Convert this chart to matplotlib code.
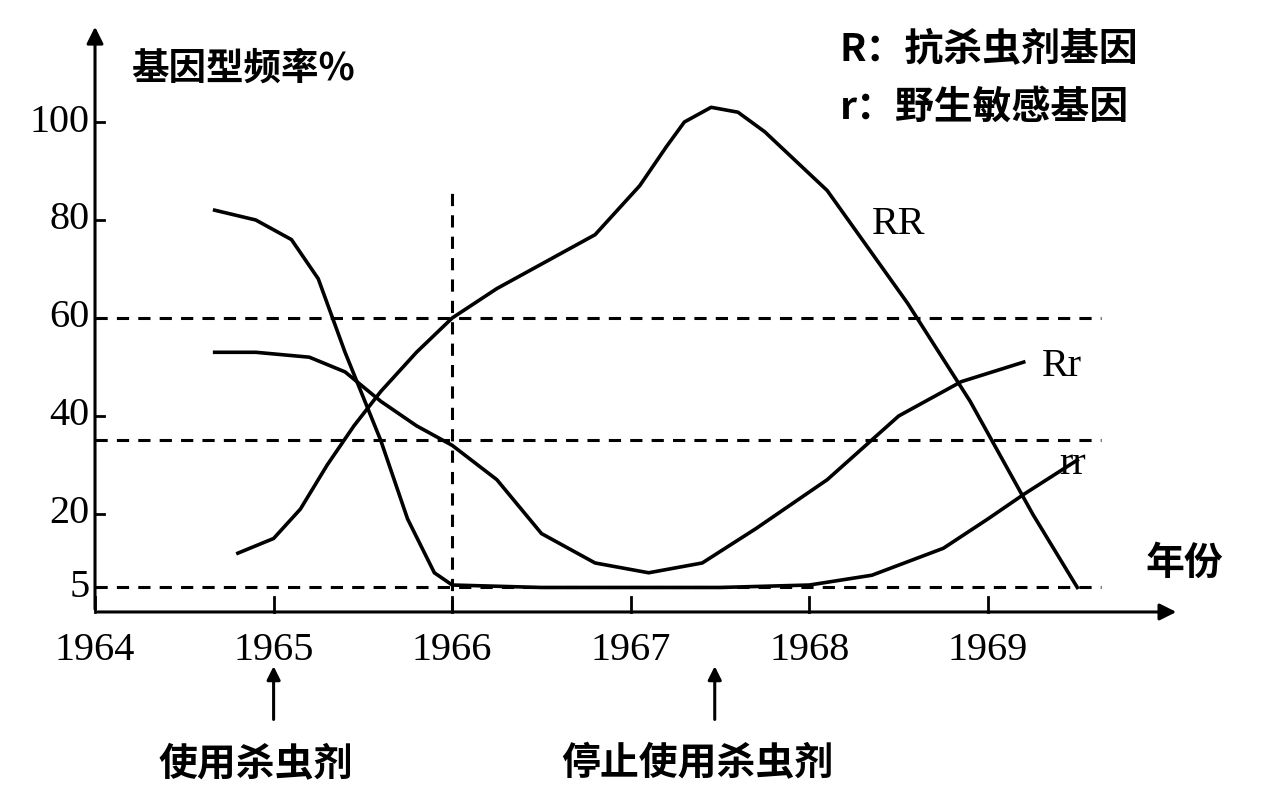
import matplotlib.pyplot as plt

plt.rcParams['font.family'] = ['Noto Sans CJK SC', 'DejaVu Sans']

years = [1964, 1965, 1966, 1967, 1968, 1969]
y_ticks = [5, 20, 40, 60, 80, 100]
guide_levels = [60, 35, 5]

rr_big_x = [1964.8, 1965.0, 1965.15, 1965.3, 1965.45, 1965.6, 1965.8, 1966.0, 1966.25, 1966.5, 1966.8,
            1967.05, 1967.2, 1967.3, 1967.45, 1967.6, 1967.75, 1968.1, 1968.55, 1968.9, 1969.25, 1969.5]
rr_big_y = [12, 15, 21, 30, 38, 45, 53, 60, 66, 71, 77, 87, 95, 100, 103, 102, 98, 86, 63, 43, 20, 5]
Rr_x = [1964.67, 1964.9, 1965.2, 1965.4, 1965.6, 1965.8, 1966.0, 1966.25, 1966.5, 1966.8, 1967.1,
        1967.4, 1967.7, 1968.1, 1968.5, 1968.85, 1969.2]
Rr_y = [53, 53, 52, 49, 43, 38, 34, 27, 16, 10, 8, 10, 17, 27, 40, 47, 51]
rr_x = [1964.67, 1964.9, 1965.1, 1965.25, 1965.4, 1965.6, 1965.75, 1965.9, 1966.0, 1966.5, 1967.0,
        1967.5, 1968.0, 1968.35, 1968.75, 1969.0, 1969.2, 1969.5]
rr_y = [82, 80, 76, 68, 53, 35, 19, 8, 5.5, 5, 5, 5, 5.5, 7.5, 13, 19, 24, 31]

fig = plt.figure(figsize=(12.8, 8.06), dpi=100)
ax = fig.add_axes([0, 0, 1, 1])
ax.set_xlim(1963.468, 1970.635)
ax.set_ylim(-39.6, 124.9)
ax.axis('off')

lw = 2.6
# axes with arrows
ax.annotate('', xy=(1970.07, 0), xytext=(1964.0, 0),
            arrowprops=dict(arrowstyle='-|>', lw=2.2, color='black', mutation_scale=25))
ax.annotate('', xy=(1964.0, 120), xytext=(1964.0, 0),
            arrowprops=dict(arrowstyle='-|>', lw=2.2, color='black', mutation_scale=25))
for yr in years:
    ax.plot([yr, yr], [0, 3], color='black', lw=2)
    ax.text(yr, -4, str(yr), ha='center', va='top', fontsize=29, family='Liberation Serif')
for v in y_ticks:
    ax.plot([1964.0, 1964.05], [v, v], color='black', lw=2)
    ax.text(1963.97, v, str(v), ha='right', va='center', fontsize=29, family='Liberation Serif')

for lv in guide_levels:
    ax.plot([1964.0, 1969.63], [lv, lv], color='black', lw=2.2, ls=(0, (4, 3)))
ax.plot([1966.0, 1966.0], [0, 87], color='black', lw=2.2, ls=(0, (4, 3)))

ax.plot(rr_big_x, rr_big_y, color='black', lw=lw)
ax.plot(Rr_x, Rr_y, color='black', lw=lw)
ax.plot(rr_x, rr_y, color='black', lw=lw)

ax.text(1968.35, 79, 'RR', fontsize=29, family='Liberation Serif', va='center')
ax.text(1969.3, 50, 'Rr', fontsize=29, family='Liberation Serif', va='center')
ax.text(1969.4, 30, 'rr', fontsize=29, family='Liberation Serif', va='center')

ax.text(1964.2, 111, '基因型频率%', fontsize=27, weight='bold', va='center')
ax.text(1969.88, 10, '年份', fontsize=28, weight='bold', va='center')
ax.text(1968.17, 115, 'R：抗杀虫剂基因', fontsize=28, weight='bold', va='center')
ax.text(1968.17, 103, 'r：野生敏感基因', fontsize=28, weight='bold', va='center')

for xa, label in [(1965.0, '使用杀虫剂'), (1967.47, '停止使用杀虫剂')]:
    ax.annotate('', xy=(xa, -10.5), xytext=(xa, -22.5),
                arrowprops=dict(arrowstyle='-|>', lw=2.2, color='black', mutation_scale=20))
    ax.text(xa - 0.1, -31, label, ha='center', va='center', fontsize=28, weight='bold')

fig.savefig('out.png', dpi=100)
